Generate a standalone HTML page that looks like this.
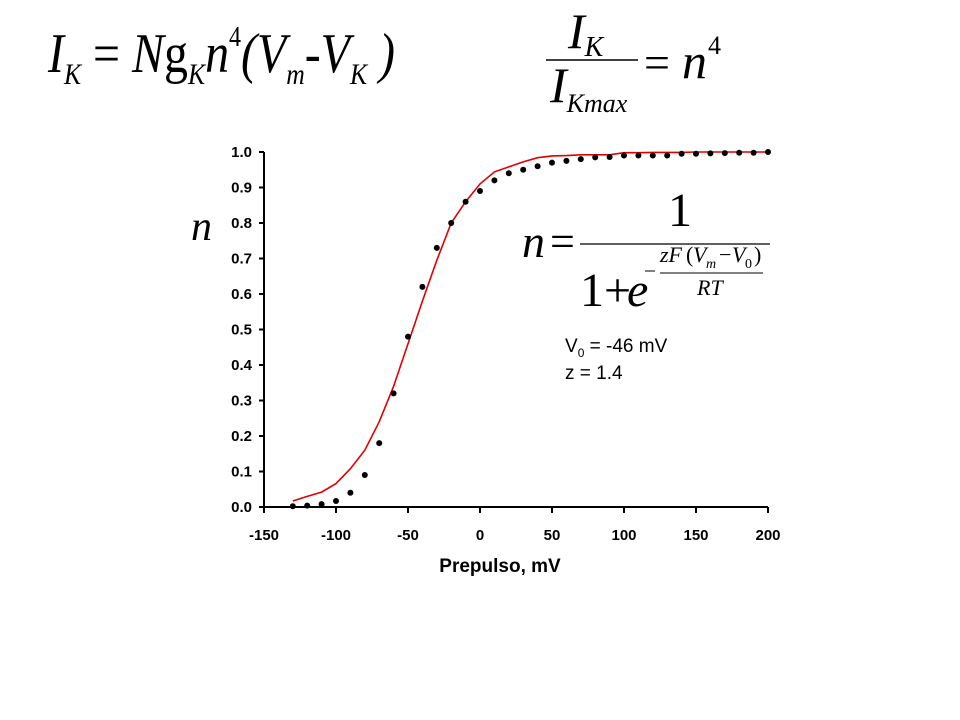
<!DOCTYPE html>
<html><head><meta charset="utf-8"><style>
html,body{margin:0;padding:0;background:#fff;}
svg{display:block;}
.tk{font-family:"Liberation Sans",Arial,sans-serif;font-weight:bold;font-size:15px;fill:#000;}
.eq{font-family:"Liberation Serif","Times New Roman",serif;fill:#000;}
</style></head><body>
<svg id="chart" width="960" height="720" viewBox="0 0 960 720">
  <g class="eq">
    <text x="48" y="72" font-size="56" font-style="italic" textLength="347" lengthAdjust="spacingAndGlyphs">I<tspan font-size="30" dy="12">K</tspan><tspan font-style="normal" dy="-12"> = </tspan>N<tspan font-style="normal">g</tspan><tspan font-size="30" dy="12">K</tspan><tspan dy="-12">n</tspan><tspan font-size="28" font-style="normal" dy="-26">4</tspan><tspan dy="26">(V</tspan><tspan font-size="30" dy="12">m</tspan><tspan dy="-12">-V</tspan><tspan font-size="30" dy="12">K</tspan><tspan dy="-12"> )</tspan></text>
  </g>
  <g class="eq">
    <text x="568" y="48" font-size="50" font-style="italic">I<tspan font-size="28" dy="8">K</tspan></text>
    <line x1="546" y1="60" x2="638" y2="60" stroke="#000" stroke-width="1.5"/>
    <text x="550" y="102" font-size="50" font-style="italic">I<tspan font-size="26" dy="10">Kmax</tspan></text>
    <text x="644" y="78" font-size="46">=</text>
    <text x="682" y="78" font-size="50" font-style="italic">n</text>
    <text x="708" y="54" font-size="26">4</text>
  </g>
  <g class="eq">
    <text x="522" y="257" font-size="46" font-style="italic">n</text>
    <text x="550" y="256" font-size="44">=</text>
    <text x="668" y="226" font-size="48">1</text>
    <line x1="580" y1="244" x2="770" y2="244" stroke="#000" stroke-width="1.2"/>
    <text x="580" y="306" font-size="48">1+</text>
    <text x="627" y="306" font-size="48" font-style="italic">e</text>
    <line x1="645" y1="271" x2="655" y2="271" stroke="#000" stroke-width="1"/>
    <text x="660" y="262" font-size="22" font-style="italic">zF</text>
    <text x="686" y="262" font-size="22">(</text>
    <text x="693" y="262" font-size="22" font-style="italic">V</text>
    <text x="706" y="268" font-size="14" font-style="italic">m</text>
    <text x="719" y="262" font-size="22">−</text>
    <text x="732" y="262" font-size="22" font-style="italic">V</text>
    <text x="745" y="268" font-size="14">0</text>
    <text x="754" y="262" font-size="22">)</text>
    <line x1="660" y1="273" x2="763" y2="273" stroke="#000" stroke-width="1"/>
    <text x="697" y="295" font-size="22" font-style="italic">RT</text>
  </g>
  <g style="font-family:'Liberation Sans',Arial,sans-serif;font-size:19px;">
    <text x="565" y="352">V<tspan font-size="12" dy="5">0</tspan><tspan dy="-5"> = -46 mV</tspan></text>
    <text x="565" y="379">z = 1.4</text>
  </g>
  <text class="eq" x="191" y="240" font-size="42" font-style="italic">n</text>
  <text x="500" y="572" text-anchor="middle" style="font-family:'Liberation Sans',Arial,sans-serif;font-weight:bold;font-size:19px;">Prepulso, mV</text>
  <g id="axes"></g>
  <g id="marks"></g>
</svg>
<script>
const xTicks = [-150, -100, -50, 0, 50, 100, 150, 200];
const yTicks = [0, 0.1, 0.2, 0.3, 0.4, 0.5, 0.6, 0.7, 0.8, 0.9, 1.0];
const voltages = [-130,-120,-110,-100,-90,-80,-70,-60,-50,-40,-30,-20,-10,0,10,20,30,40,50,60,70,80,90,100,110,120,130,140,150,160,170,180,190,200];
const measuredN = [0.002,0.004,0.008,0.017,0.04,0.09,0.18,0.32,0.48,0.62,0.73,0.80,0.86,0.89,0.92,0.94,0.95,0.96,0.97,0.975,0.98,0.985,0.986,0.99,0.99,0.99,0.99,0.995,0.995,0.996,0.997,0.998,0.998,1.0];
const fitN = [0.017,0.03,0.042,0.066,0.108,0.16,0.24,0.34,0.46,0.58,0.695,0.80,0.86,0.91,0.944,0.958,0.972,0.984,0.989,0.99,0.992,0.992,0.992,0.998,0.998,0.999,0.999,0.999,1.0,1.0,1.0,1.0,1.0,1.0];

const NS = "http://www.w3.org/2000/svg";
const X0 = 264, X1 = 768, Y0 = 507, Y1 = 152;
const xs = v => X0 + (v - (-150)) / 350 * (X1 - X0);
const ys = v => Y0 - v * (Y0 - Y1);
const axes = document.getElementById('axes');
const marks = document.getElementById('marks');
function mk(tag, attrs, parent){const e=document.createElementNS(NS,tag);for(const k in attrs)e.setAttribute(k,attrs[k]);parent.appendChild(e);return e;}

const xa = mk('line',{x1:X0,y1:Y0,x2:X1,y2:Y0,stroke:'#000','stroke-width':2},axes);


const ya = mk('line',{x1:X0,y1:Y0,x2:X0,y2:Y1,stroke:'#000','stroke-width':2},axes);


xTicks.forEach(t=>{
  const l = mk('line',{x1:xs(t),y1:Y0,x2:xs(t),y2:Y0+6,stroke:'#000','stroke-width':2},axes);
  
  
  const tx = mk('text',{x:xs(t),y:Y0+33,'text-anchor':'middle',class:'tk'},axes);
  tx.textContent = t;
  
  
});
yTicks.forEach(t=>{
  const l = mk('line',{x1:X0-5,y1:ys(t),x2:X0,y2:ys(t),stroke:'#000','stroke-width':2},axes);
  
  
  const tx = mk('text',{x:252,y:ys(t)+5,'text-anchor':'end',class:'tk'},axes);
  tx.textContent = t.toFixed(1);
  
  
});
const pts = voltages.map((v,i)=>xs(v).toFixed(1)+','+ys(fitN[i]).toFixed(1)).join(' ');
const fit = mk('polyline',{points:pts,fill:'none',stroke:'#e00000','stroke-width':1.6},marks);


voltages.forEach((v,i)=>{
  const c = mk('circle',{cx:xs(v),cy:ys(measuredN[i]),r:3,fill:'#000'},marks);
  
  
});
</script>
</body></html>
